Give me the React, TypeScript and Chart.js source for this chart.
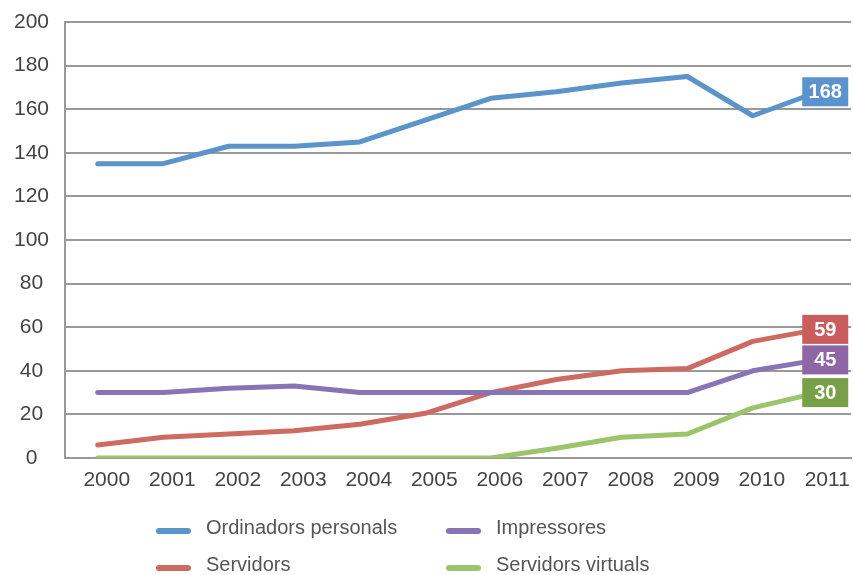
import React, { useEffect, useRef } from "react";
import { Chart, registerables } from "chart.js";

Chart.register(...registerables);

const years = ["2000", "2001", "2002", "2003", "2004", "2005", "2006", "2007", "2008", "2009", "2010", "2011"];
const ordinadors = [135, 135, 143, 143, 145, 155, 165, 168, 172, 175, 157, 168];
const impressores = [30, 30, 32, 33, 30, 30, 30, 30, 30, 30, 40, 45];
const servidors = [6, 9.5, 11, 12.5, 15.5, 20.5, 30, 36, 40, 41, 53.5, 59];
const virtuals = [0, 0, 0, 0, 0, 0, 0, 4.5, 9.5, 11, 23, 30];
const seriesNames = ["Ordinadors personals", "Impressores", "Servidors", "Servidors virtuals"];
const lineColors = ["#5b93cb", "#8674b6", "#cd6a62", "#9cc46b"];
const boxColors = ["#5a93cd", "#8e66a6", "#ca5d5b", "#78a048"];

const FONT = "'Liberation Sans', Arial, sans-serif";

const labelBoxes = {
  id: "labelBoxes",
  afterDatasetsDraw(chart: any) {
    const ctx = chart.ctx;
    ctx.save();
    chart.data.datasets.forEach((ds: any, i: number) => {
      const meta = chart.getDatasetMeta(i);
      const last = meta.data[meta.data.length - 1];
      if (!last) return;
      const w = 46, h = 29;
      const cx = last.x + 7;
      const cy = last.y;
      ctx.fillStyle = boxColors[i];
      ctx.fillRect(cx - w / 2, cy - h / 2, w, h);
      ctx.fillStyle = "#ffffff";
      ctx.font = `bold 20px ${FONT}`;
      ctx.textAlign = "center";
      ctx.textBaseline = "middle";
      const v = ds.data[ds.data.length - 1];
      ctx.fillText(String(Math.round(v)), cx, cy + 1);
    });
    ctx.restore();
  },
};

const legendPlugin = {
  id: "customLegend",
  afterDraw(chart: any) {
    const ctx = chart.ctx;
    const items = [
      { x: 157, y: 530, i: 0 },
      { x: 447, y: 530, i: 1 },
      { x: 157, y: 567, i: 2 },
      { x: 447, y: 567, i: 3 },
    ];
    ctx.save();
    items.forEach((it) => {
      ctx.strokeStyle = lineColors[it.i];
      ctx.lineWidth = 6;
      ctx.lineCap = "round";
      ctx.beginPath();
      ctx.moveTo(it.x + 2, it.y + 1);
      ctx.lineTo(it.x + 31, it.y + 1);
      ctx.stroke();
      ctx.fillStyle = "#555555";
      ctx.font = `20px ${FONT}`;
      ctx.textAlign = "left";
      ctx.textBaseline = "middle";
      ctx.fillText(seriesNames[it.i], it.x + 49, it.y - 2);
    });
    ctx.restore();
  },
};

export default function App() {
  const ref = useRef<HTMLCanvasElement>(null);
  useEffect(() => {
    if (!ref.current) return;
    const seriesData = [ordinadors, impressores, servidors, virtuals];
    const chart = new Chart(ref.current, {
      type: "line",
      data: {
        labels: years,
        datasets: seriesData.map((d, i) => ({
          label: seriesNames[i],
          data: d,
          borderColor: lineColors[i],
          backgroundColor: lineColors[i],
          borderWidth: 5,
          pointRadius: 0,
          tension: 0,
          borderCapStyle: "round" as const,
          borderJoinStyle: "round" as const,
          fill: false,
        })),
      },
      options: {
        animation: false,
        responsive: false,
        maintainAspectRatio: false,
        layout: { padding: { top: 22, right: 2, bottom: 75, left: 0 } },
        plugins: { legend: { display: false }, tooltip: { enabled: false } },
        scales: {
          x: {
            offset: true,
            grid: { display: false, drawTicks: false },
            border: { display: true, color: "#999999", width: 2 },
            ticks: {
              color: "#444444",
              font: { size: 21, family: FONT },
              padding: 10,
              labelOffset: 9,
              maxRotation: 0,
              autoSkip: false,
            },
            afterFit(scale: any) {
              scale.height = 42;
              scale.paddingLeft = 0;
              scale.paddingRight = 0;
            },
          },
          y: {
            min: 0,
            max: 200,
            grid: { color: "#999999", lineWidth: 2, drawTicks: false },
            border: { display: true, color: "#999999", width: 2 },
            ticks: {
              stepSize: 20,
              color: "#444444",
              font: { size: 21, family: FONT },
              padding: 16,
              crossAlign: "center",
            },
            afterFit(scale: any) {
              scale.width = 65;
              scale.paddingTop = 0;
              scale.paddingBottom = 0;
            },
          },
        },
      },
      plugins: [labelBoxes, legendPlugin],
    });
    return () => chart.destroy();
  }, []);
  return (
    <div style={{ position: "absolute", left: 0, top: 0, width: 853, height: 575, background: "#fff" }}>
      <canvas ref={ref} width={853} height={575} style={{ width: 853, height: 575, display: "block" }} />
    </div>
  );
}
